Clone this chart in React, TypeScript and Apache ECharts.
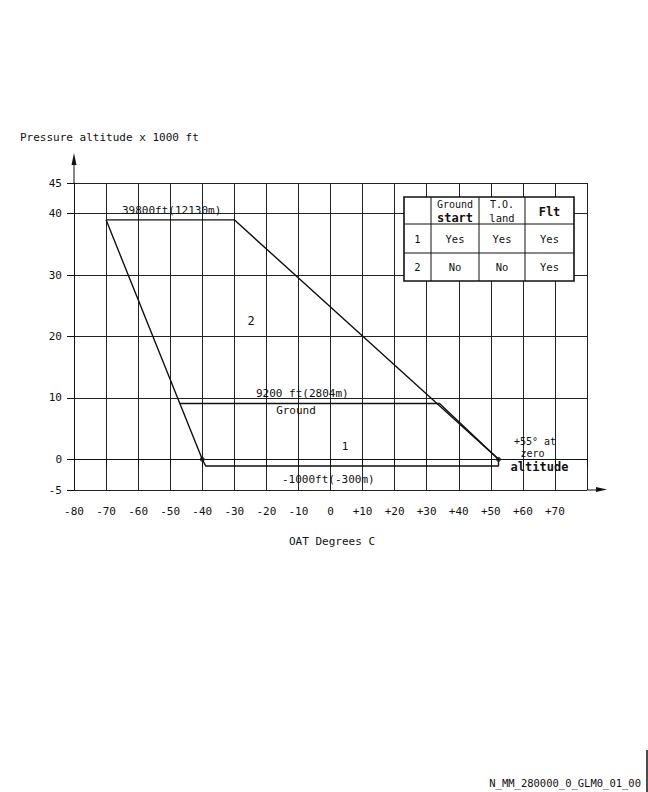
import React, { useEffect, useRef } from "react";
import * as echarts from "echarts";

// ---- data ----
const xLabelValues = [-80, -70, -60, -50, -40, -30, -20, -10, 0, 10, 20, 30, 40, 50, 60, 70];
const yLabelValues = [-5, 0, 10, 20, 30, 40, 45];

// flight envelope outline (OAT °C, pressure altitude x1000 ft)
const envelope = [
  [-70, 39],
  [-30, 39],
  [52.4, 0],
  [52.4, -1.1],
  [-38.9, -1.1],
  [-40, 0],
  [-70, 39],
];
// ground-start limit line
const groundLimit = [
  [-46.9, 9.1],
  [34, 9.1],
  [52.4, 0],
];
const markers = [
  [-40, 0],
  [52.4, 0],
];

const tableHeader = [["", ""], ["Ground", "start"], ["T.O.", "land"], ["Flt", ""]];
const tableRows = [
  ["1", "Yes", "Yes", "Yes"],
  ["2", "No", "No", "Yes"],
];

const FONT = "'DejaVu Sans Mono', monospace";

export default function App() {
  const ref = useRef<HTMLDivElement>(null);

  useEffect(() => {
    if (!ref.current) return;
    const chart = echarts.init(ref.current, null, { renderer: "svg" });

    const gl = 74, gr = 587, gt = 183, gb = 490;

    const txt = (text: string, x: number, y: number, opts: any = {}) => ({
      type: "text",
      x,
      y,
      z: 120,
      style: {
        text,
        fill: "#111",
        font: `${opts.bold ? "bold " : ""}${opts.size || 11}px ${FONT}`,
        textAlign: opts.align || "center",
        textVerticalAlign: "middle",
      },
    });

    // table geometry
    const tx = [404, 431, 479, 525, 574];
    const ty = [197, 224, 253, 281];
    const tableEls: any[] = [
      {
        type: "rect",
        z: 100,
        shape: { x: tx[0], y: ty[0], width: tx[4] - tx[0], height: ty[3] - ty[0] },
        style: { fill: "#fff", stroke: "#111", lineWidth: 1.6 },
      },
    ];
    for (let i = 1; i < 4; i++) {
      tableEls.push({
        type: "line",
        z: 101,
        shape: { x1: tx[i], y1: ty[0], x2: tx[i], y2: ty[3] },
        style: { stroke: "#111", lineWidth: 1 },
      });
    }
    for (let j = 1; j < 3; j++) {
      tableEls.push({
        type: "line",
        z: 101,
        shape: { x1: tx[0], y1: ty[j], x2: tx[4], y2: ty[j] },
        style: { stroke: "#111", lineWidth: 1 },
      });
    }
    tableHeader.forEach((h, i) => {
      const cx = (tx[i] + tx[i + 1]) / 2;
      if (h[0] && h[1]) {
        tableEls.push(txt(h[0], cx, 204.5, { size: 10 }));
        tableEls.push(txt(h[1], cx, 217.5, { size: i === 1 ? 12 : 10.5, bold: i === 1 }));
      } else if (h[0]) {
        tableEls.push(txt(h[0], cx, 211.5, { size: 12, bold: true }));
      }
    });
    tableRows.forEach((r, j) => {
      const cy = (ty[j + 1] + ty[j + 2]) / 2;
      r.forEach((c, i) => {
        const cx = (tx[i] + tx[i + 1]) / 2;
        tableEls.push(txt(c, cx, cy, { size: 10.5 }));
      });
    });

    const option: any = {
      animation: false,
      backgroundColor: "#fff",
      grid: { left: gl, right: 648 - gr, top: gt, bottom: 792 - gb, containLabel: false },
      xAxis: {
        type: "value",
        min: -80,
        max: 80,
        interval: 10,
        axisLine: { show: true, lineStyle: { color: "#111", width: 1 } },
        axisTick: { show: true, length: 8, lineStyle: { color: "#111" } },
        axisLabel: {
          customValues: xLabelValues,
          margin: 16,
          color: "#111",
          fontFamily: FONT,
          fontSize: 11,
          formatter: (v: number) => (v > 0 ? "+" + v : String(v)),
        },
        splitLine: { show: true, lineStyle: { color: "#222", width: 1 } },
      },
      yAxis: {
        type: "value",
        min: -5,
        max: 45,
        interval: 5,
        axisLine: { show: true, onZero: false, lineStyle: { color: "#111", width: 1 } },
        axisTick: { show: true, length: 7, customValues: yLabelValues, lineStyle: { color: "#111" } },
        axisLabel: {
          customValues: yLabelValues,
          margin: 12,
          color: "#111",
          fontFamily: FONT,
          fontSize: 11,
        },
        splitLine: { show: true, lineStyle: { color: "#222", width: 1 } },
      },
      series: [
        {
          type: "line",
          data: envelope,
          symbol: "none",
          z: 5,
          lineStyle: { color: "#111", width: 1.4 },
        },
        {
          type: "line",
          data: groundLimit,
          symbol: "none",
          z: 5,
          lineStyle: { color: "#111", width: 1.4 },
        },
        {
          type: "scatter",
          data: markers,
          symbolSize: 5,
          z: 6,
          itemStyle: { color: "#111" },
        },
      ],
      graphic: [
        // axis extensions with arrows
        { type: "line", z: 50, shape: { x1: gl, y1: gt, x2: gl, y2: 162 }, style: { stroke: "#111", lineWidth: 1 } },
        {
          type: "polygon",
          z: 50,
          shape: { points: [[gl, 153], [gl - 2.5, 165], [gl + 2.5, 165]] },
          style: { fill: "#111" },
        },
        { type: "line", z: 50, shape: { x1: gr, y1: gb, x2: 598, y2: gb }, style: { stroke: "#111", lineWidth: 1 } },
        {
          type: "polygon",
          z: 50,
          shape: { points: [[607, gb - 0.5], [596, gb - 3], [596, gb + 2]] },
          style: { fill: "#111" },
        },
        // titles
        txt("Pressure altitude x 1000 ft", 20, 137, { align: "left" }),
        txt("OAT Degrees C", 332, 541),
        // annotations
        txt("39800ft(12130m)", 122, 210, { align: "left" }),
        txt("9200 ft(2804m)", 256, 393, { align: "left" }),
        txt("Ground", 296, 410),
        txt("2", 251, 321, { size: 12 }),
        txt("1", 345, 446),
        txt("-1000ft(-300m)", 282, 479, { align: "left" }),
        txt("+55° at", 535, 441, { size: 10 }),
        txt("zero", 532.5, 453, { size: 10 }),
        txt("altitude", 539.5, 466.5, { bold: true, size: 12 }),
        // footer
        txt("N_MM_280000_0_GLM0_01_00", 641, 783, { align: "right", size: 10.5 }),
        { type: "line", z: 50, shape: { x1: 647, y1: 750, x2: 647, y2: 792 }, style: { stroke: "#111", lineWidth: 1.5 } },
        ...tableEls,
      ],
    };

    chart.setOption(option);
    return () => chart.dispose();
  }, []);

  return (
    <div
      ref={ref}
      style={{ position: "absolute", left: 0, top: 0, width: 648, height: 792, background: "#fff" }}
    />
  );
}
